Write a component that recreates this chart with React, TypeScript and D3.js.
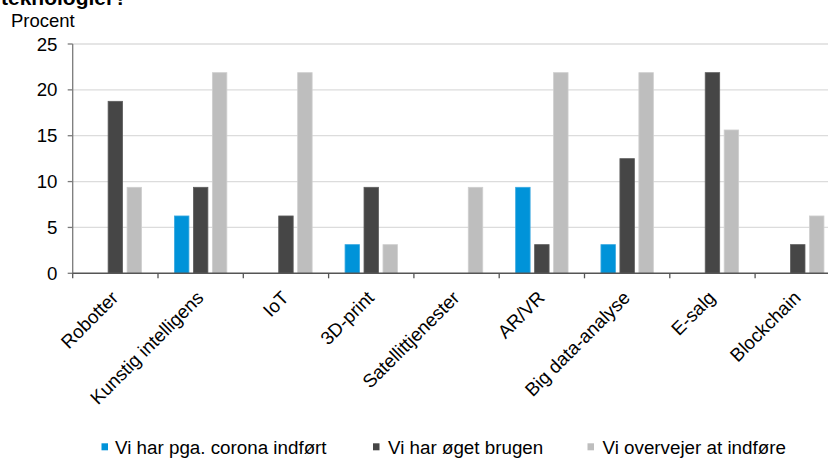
import React from "react";
import * as d3 from "d3";

const categories = ["Robotter", "Kunstig intelligens", "IoT", "3D-print", "Satellittjenester", "AR/VR", "Big data-analyse", "E-salg", "Blockchain"];
const seriesNames = ["Vi har pga. corona indført", "Vi har øget brugen", "Vi overvejer at indføre"];
const coronaIndfoert = [0, 6.25, 0, 3.125, 0, 9.375, 3.125, 0, 0];
const oegetBrugen = [18.75, 9.375, 6.25, 9.375, 0, 3.125, 12.5, 21.875, 3.125];
const overvejer = [9.375, 21.875, 21.875, 3.125, 9.375, 21.875, 21.875, 15.625, 6.25];
const yTicks = [0, 5, 10, 15, 20, 25];
const colors = ["#0093d9", "#464646", "#bebebe"];
const strokes = ["#3aa8e0", "#5e5e5e", "#cfcfcf"];

const FONT = "'Liberation Sans', Arial, sans-serif";

export default function App() {
  const W = 828, H = 458;
  const left = 72.7, bandW = 85.3;
  const x = d3.scaleBand<string>().domain(categories).range([left, left + bandW * categories.length]).paddingInner(0).paddingOuter(0);
  const groupW = 52.4;
  const off = (bandW - groupW) / 2;
  const xs = d3.scaleBand<string>().domain(seriesNames).range([off, off + groupW]).paddingInner(0.237).paddingOuter(0);
  const y = d3.scaleLinear().domain([0, 25]).range([273.3, 44]);
  const series = [coronaIndfoert, oegetBrugen, overvejer];
  const boundaries = d3.range(categories.length + 1).map(i => left + i * bandW);
  const legendX = [[101.5, 115], [373, 388], [587.5, 602.5]];

  return (
    <svg width={W} height={H} style={{ position: "absolute", left: 0, top: 0, background: "#fff" }} fontFamily={FONT}>
      <text x={1} y={4.5} fontSize={21} fontWeight="bold" fill="#000">teknologier?</text>
      <text x={11} y={27} fontSize={18.5} fill="#000">Procent</text>
      {yTicks.map(t => (
        <g key={t}>
          {t > 0 && <line x1={left} x2={W} y1={y(t)} y2={y(t)} stroke="#dcdcdc" strokeWidth={1.3} />}
          <line x1={left - 5} x2={left} y1={y(t)} y2={y(t)} stroke="#7a7a7a" strokeWidth={1.3} />
          <text x={57.5} y={y(t)} dy="0.35em" textAnchor="end" fontSize={18.7} fill="#000">{t}</text>
        </g>
      ))}
      {categories.map((c, i) => (
        <g key={c}>
          {series.map((s, k) => s[i] > 0 ? (
            <rect key={k} x={(x(c) as number) + (xs(seriesNames[k]) as number)} y={y(s[i])} width={xs.bandwidth()} height={y(0) - y(s[i])} fill={colors[k]} stroke={strokes[k]} strokeWidth={0.8} />
          ) : null)}
        </g>
      ))}
      <line x1={left} x2={left} y1={y(25)} y2={y(0)} stroke="#7a7a7a" strokeWidth={1.3} />
      <line x1={left} x2={W} y1={y(0)} y2={y(0)} stroke="#555" strokeWidth={1.5} />
      {boundaries.map((b, i) => (
        <line key={i} x1={b} x2={b} y1={y(0)} y2={y(0) + 5} stroke="#555" strokeWidth={1.3} />
      ))}
      {categories.map(c => {
        const cx = (x(c) as number) + bandW / 2 + 4;
        const cy = 299;
        return (
          <text key={c} x={cx} y={cy} transform={`rotate(-45 ${cx} ${cy})`} textAnchor="end" fontSize={18.7} fill="#000">{c}</text>
        );
      })}
      {seriesNames.map((s, k) => (
        <g key={s}>
          <rect x={legendX[k][0]} y={443.3} width={6.5} height={7} fill={colors[k]} />
          <text x={legendX[k][1]} y={454} fontSize={18.8} fill="#000">{s}</text>
        </g>
      ))}
    </svg>
  );
}
